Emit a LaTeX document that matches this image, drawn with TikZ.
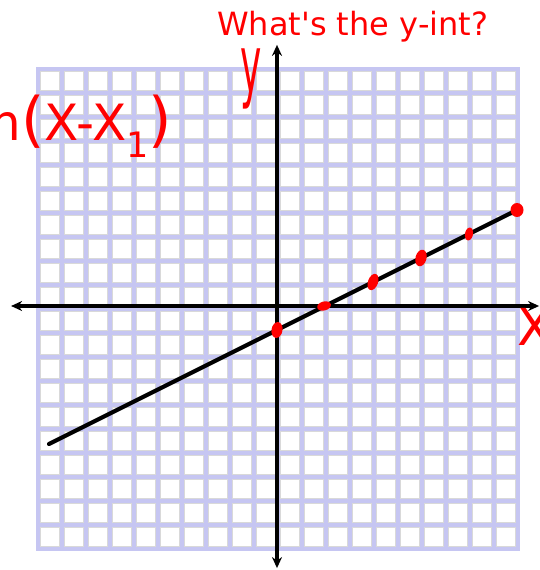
\documentclass[tikz,border=0pt]{standalone}
\usepackage{fontspec}
\setmainfont{DejaVu Sans}
\usepackage{xcolor}
\definecolor{gridlav}{HTML}{C6C6F2}
\definecolor{cellrim}{HTML}{D9D9D9}
\definecolor{inkred}{HTML}{FF0000}
\usetikzlibrary{
  positioning,
  arrows.meta,
  shapes.geometric
}

\begin{document}
\begin{tikzpicture}[
  x=24pt, y=24pt,
  >={Stealth[length=11pt,width=10pt]},
  axis/.style={<->, line width=3.2pt, black},
  graphline/.style={line width=4.2pt, black, line cap=round},
  inkdot/.style={ellipse, fill=inkred, inner sep=0pt},
  hand/.style={text=inkred, inner sep=0pt}
]
\useasboundingbox (-11.5417,-11) rectangle (10.9167,12.75);
\clip (-11.5417,-11) rectangle (10.9167,12.75);

% grid paper
\begin{scope}[shift={(1pt,-3pt)}]
  \fill[gridlav] (-10.09,-10.09) rectangle (10.09,10.09);
  \foreach \i in {-10,...,9}
    \foreach \j in {-10,...,9}
      \filldraw[fill=white, draw=cellrim, line width=0.8pt]
        (\i+0.09,\j+0.09) rectangle (\i+0.91,\j+0.91);
\end{scope}

% axes
\coordinate (xleft) at (-11.08,0);
\coordinate (xright) at (10.92,0);
\coordinate (ybottom) at (0,-10.92);
\coordinate (ytop) at (0,10.88);
\draw[axis] (xleft) -- (xright);
\draw[axis] (ybottom) -- (ytop);

% the line
\coordinate (lstart) at (-9.5,-5.75);
\coordinate (lend) at (10,4);
\draw[graphline] (lstart) -- (lend);

% marked points
\node[inkdot, minimum width=11pt, minimum height=16pt, rotate=-10] (p0) at (0,-1) {};
\node[inkdot, minimum width=14pt, minimum height=9pt, rotate=15] (p2) at (1.96,0) {};
\node[inkdot, minimum width=10pt, minimum height=17pt, rotate=-20] (p4) at (4,1) {};
\node[inkdot, minimum width=11pt, minimum height=17pt, rotate=-15] (p6) at (6,2) {};
\node[inkdot, minimum width=8pt, minimum height=13pt, rotate=-10] (p8) at (8,3) {};
\node[inkdot, minimum width=13pt, minimum height=14pt] (p10) at (10,4) {};

% red notes
\node[hand, font=\fontsize{32}{32}\selectfont, anchor=base west] (question)
  at (-2.5,11.29) {What\textquotesingle s the y-int?};
\node[hand, font=\fontsize{80}{80}\selectfont, xscale=0.45, anchor=base] (ylabel)
  at (-1.08,8.9) {y};
\node[hand, font=\fontsize{51}{51}\selectfont, anchor=north west] (xlabel)
  at (10.0,-0.1) {X};
\node[hand, font=\fontsize{50}{50}\selectfont, anchor=base east] (slope)
  at (-4.35,6.9) {m{\fontsize{60}{60}\selectfont(}X-X\textsubscript{1}{\fontsize{60}{60}\selectfont)}};

\end{tikzpicture}
\end{document}
